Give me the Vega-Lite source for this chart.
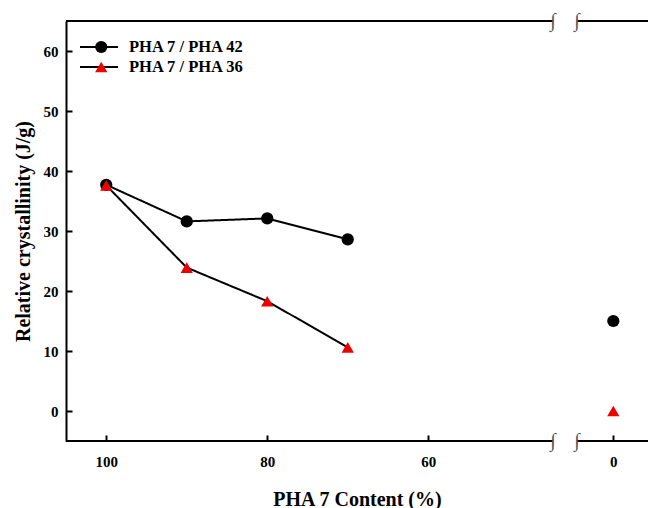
{
  "$schema": "https://vega.github.io/schema/vega-lite/v6.json",
  "width": 582,
  "height": 420,
  "autosize": "none",
  "padding": {"left": 66, "top": 21, "right": 0, "bottom": 67},
  "background": "white",
  "config": {
    "view": {"stroke": null},
    "font": "Liberation Serif",
    "axis": {
      "labelFont": "Liberation Serif", "labelFontWeight": "bold", "labelFontSize": 15, "labelColor": "black",
      "titleFont": "Liberation Serif", "titleFontWeight": "bold", "titleColor": "black",
      "tickColor": "black", "tickWidth": 2, "domainColor": "black", "domainWidth": 2, "grid": false
    },
    "legend": {
      "labelFont": "Liberation Serif", "labelFontWeight": "bold", "labelFontSize": 16.5, "labelColor": "black",
      "padding": 0, "offset": 0, "rowPadding": 3, "clipHeight": 16
    }
  },
  "data": {"values": [
    {"content": 100, "series": "PHA 7 / PHA 42", "value": 37.7},
    {"content": 90, "series": "PHA 7 / PHA 42", "value": 31.6},
    {"content": 80, "series": "PHA 7 / PHA 42", "value": 32.1},
    {"content": 70, "series": "PHA 7 / PHA 42", "value": 28.6},
    {"content": 0, "series": "PHA 7 / PHA 42", "value": 15.0},
    {"content": 100, "series": "PHA 7 / PHA 36", "value": 37.6},
    {"content": 90, "series": "PHA 7 / PHA 36", "value": 23.9},
    {"content": 80, "series": "PHA 7 / PHA 36", "value": 18.3},
    {"content": 70, "series": "PHA 7 / PHA 36", "value": 10.6},
    {"content": 0, "series": "PHA 7 / PHA 36", "value": 0}
  ]},
  "layer": [
    {
      "transform": [{"filter": "datum.content > 50"}],
      "mark": {"type": "line", "color": "black", "strokeWidth": 2},
      "encoding": {
        "x": {"field": "content", "type": "quantitative",
          "scale": {"domain": [105, 44.5, 4.5, -4.3], "range": [0, 487, 511, 582], "nice": false, "zero": false},
          "axis": {"values": [100, 80, 60, 0], "domain": false, "tickSize": -6, "labelPadding": 19,
            "title": "PHA 7 Content (%)", "titleFontSize": 20, "titlePadding": 20}},
        "y": {"field": "value", "type": "quantitative",
          "scale": {"domain": [-5, 65], "nice": false, "zero": false},
          "axis": {"values": [0, 10, 20, 30, 40, 50, 60], "tickSize": -6, "labelPadding": 14,
            "title": "Relative crystallinity (J/g)", "titleFontSize": 20, "titlePadding": 10}},
        "strokeDash": {"field": "series", "type": "nominal", "sort": "descending",
          "scale": {"range": [[1, 0], [1, 0]]},
          "legend": {"orient": "none", "legendX": 13, "legendY": 18, "title": null,
            "symbolType": "stroke", "symbolSize": 1444, "symbolStrokeWidth": 2, "symbolStrokeColor": "black",
            "labelOffset": 10}}
      }
    },
    {
      "mark": {"type": "point", "filled": true, "opacity": 1, "size": 150},
      "encoding": {
        "x": {"field": "content", "type": "quantitative"},
        "y": {"field": "value", "type": "quantitative"},
        "color": {"field": "series", "type": "nominal",
          "scale": {"domain": ["PHA 7 / PHA 42", "PHA 7 / PHA 36"], "range": ["black", "#ee0000"]},
          "legend": {"orient": "none", "legendX": 27, "legendY": 18, "title": null, "symbolSize": 150,
            "labelExpr": "''", "symbolOpacity": 1}},
        "shape": {"field": "series", "type": "nominal",
          "scale": {"domain": ["PHA 7 / PHA 42", "PHA 7 / PHA 36"], "range": ["circle", "triangle-up"]}}
      }
    },
    {
      "data": {"values": [{}]},
      "mark": {"type": "rule", "color": "black", "strokeWidth": 2},
      "encoding": {"x": {"datum": 105}, "x2": {"datum": 44.5}, "y": {"datum": 65}}
    },
    {
      "data": {"values": [{}]},
      "mark": {"type": "rule", "color": "black", "strokeWidth": 2},
      "encoding": {"x": {"datum": 4.5}, "x2": {"datum": -4.3}, "y": {"datum": 65}}
    },
    {
      "data": {"values": [{}]},
      "mark": {"type": "rule", "color": "black", "strokeWidth": 2},
      "encoding": {"x": {"datum": 105}, "x2": {"datum": 44.5}, "y": {"datum": -5}}
    },
    {
      "data": {"values": [{}]},
      "mark": {"type": "rule", "color": "black", "strokeWidth": 2},
      "encoding": {"x": {"datum": 4.5}, "x2": {"datum": -4.3}, "y": {"datum": -5}}
    },
    {
      "data": {"values": [{}]},
      "mark": {"type": "text", "text": "∫", "font": "Liberation Serif", "fontSize": 20, "color": "#555", "baseline": "middle", "align": "center"},
      "encoding": {"x": {"datum": 44.5}, "y": {"datum": 65}}
    },
    {
      "data": {"values": [{}]},
      "mark": {"type": "text", "text": "∫", "font": "Liberation Serif", "fontSize": 20, "color": "#555", "baseline": "middle", "align": "center"},
      "encoding": {"x": {"datum": 4.5}, "y": {"datum": 65}}
    },
    {
      "data": {"values": [{}]},
      "mark": {"type": "text", "text": "∫", "font": "Liberation Serif", "fontSize": 20, "color": "#555", "baseline": "middle", "align": "center"},
      "encoding": {"x": {"datum": 44.5}, "y": {"datum": -5}}
    },
    {
      "data": {"values": [{}]},
      "mark": {"type": "text", "text": "∫", "font": "Liberation Serif", "fontSize": 20, "color": "#555", "baseline": "middle", "align": "center"},
      "encoding": {"x": {"datum": 4.5}, "y": {"datum": -5}}
    }
  ]
}
